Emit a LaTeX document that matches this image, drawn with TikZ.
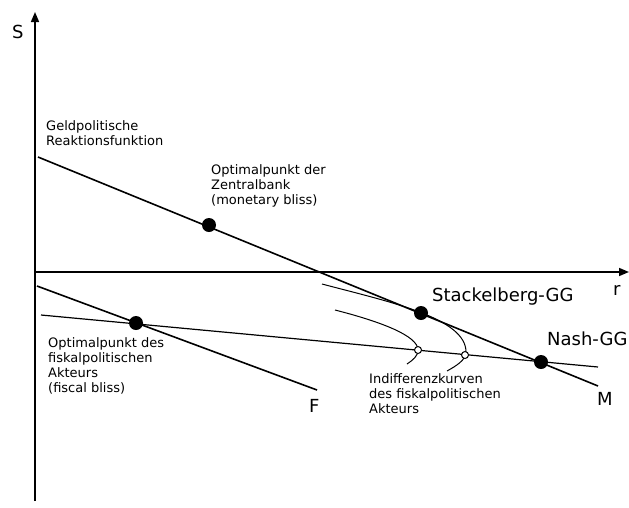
\documentclass[tikz,border=0pt]{standalone}
\usepackage{fontspec}
\setmainfont{DejaVu Sans}
\usepackage{tikz}
\usetikzlibrary{arrows.meta,positioning}

\begin{document}
\begin{tikzpicture}[x=1pt,y=-1pt]
  \useasboundingbox (0,0) rectangle (629,507);
  \tikzstyle{big}=[font=\fontsize{18}{21}\selectfont, inner sep=0pt, anchor=base west]
  \tikzstyle{small}=[font=\fontsize{13}{15}\selectfont, inner sep=0pt, anchor=north west, align=left]
  \tikzstyle{bigdot}=[circle, fill=black, inner sep=0pt, minimum size=14pt]
  \tikzstyle{opendot}=[circle, draw, fill=white, inner sep=0pt, minimum size=7pt, line width=1pt]
  \tikzstyle{axis}=[line width=1.6pt, -{Triangle[length=10pt,width=8pt]}]
  % axes
  \coordinate (yBot) at (35,501);
  \coordinate (yTop) at (35,12);
  \coordinate (xBeg) at (35,272);
  \coordinate (xEnd) at (629,272);
  \draw[axis] (yBot) -- (yTop);
  \draw[axis] (xBeg) -- (xEnd);
  \node[big] (lS) at (12,38) {S};
  \node[big] (lr) at (613,295) {r};
  % reaction lines
  \coordinate (mA) at (38,157);
  \coordinate (mB) at (598,386);
  \coordinate (fA) at (37,286);
  \coordinate (fB) at (317,390);
  \coordinate (nA) at (41,315);
  \coordinate (nB) at (598,367);
  \draw[line width=1.6pt] (mA) -- (mB);
  \draw[line width=1.6pt] (fA) -- (fB);
  \draw[line width=1.2pt] (nA) -- (nB);
  % indifference curves
  \coordinate (iA) at (335,310);
  \coordinate (iB) at (322,284);
  \draw[line width=1pt] (iA) .. controls (382,322) and (418,336) .. (418,350)
    .. controls (418,356) and (413,360) .. (407,364);
  \draw[line width=1pt] (iB) .. controls (390,302) and (466,318) .. (466,352)
    .. controls (466,360) and (456,366) .. (447,371);
  % points
  \foreach \n/\x/\y in {mb/209/225,sg/421/313,ng/541/362,fb/136/323}{
    \node[bigdot] (\n) at (\x,\y) {};
  }
  \node[opendot] (iP) at (418,350) {};
  \node[opendot] (iQ) at (465,355) {};
  % labels
  \node[big] (lM) at (597,405) {M};
  \node[big] (lF) at (309,412) {F};
  \node[big] (lSG) at (432,301) {Stackelberg-GG};
  \node[big] (lNG) at (547,345) {Nash-GG};
  \node[small] (lGR) at (46,120) {Geldpolitische\\Reaktionsfunktion};
  \node[small] (lMB) at (211,164) {Optimalpunkt der\\Zentralbank\\(monetary bliss)};
  \node[small] (lFB) at (48,337) {Optimalpunkt des\\fiskalpolitischen\\Akteurs\\(fiscal bliss)};
  \node[small] (lIK) at (369,373) {Indifferenzkurven\\des fiskalpolitischen\\Akteurs};
\end{tikzpicture}
\end{document}
